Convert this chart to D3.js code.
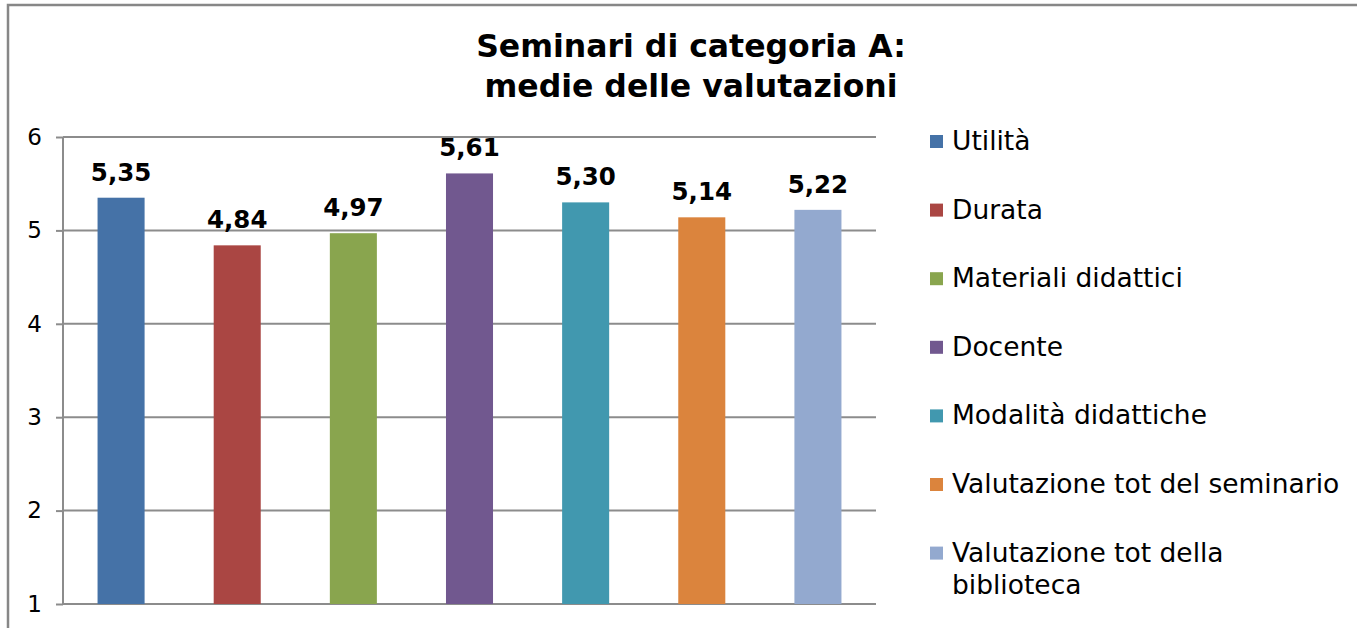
<!DOCTYPE html>
<html>
<head>
<meta charset="utf-8">
<script src="https://cdn.jsdelivr.net/npm/d3@7"></script>
<style>
  html, body { margin: 0; padding: 0; background: #fff; }
  svg { display: block; }
</style>
</head>
<body>
<svg id="chart" width="1357" height="628"></svg>
<script>
const categories = ["Utilità", "Durata", "Materiali didattici", "Docente", "Modalità didattiche", "Valutazione tot del seminario", "Valutazione tot della biblioteca"];
const values = [5.35, 4.84, 4.97, 5.61, 5.30, 5.14, 5.22];
const colors = ["#4572A7", "#AA4643", "#89A54E", "#71588F", "#4198AF", "#DB843D", "#93A9CF"];
const yTicks = [1, 2, 3, 4, 5, 6];
const titleLines = ["Seminari di categoria A:", "medie delle valutazioni"];

const svg = d3.select("#chart");
const font = "'DejaVu Sans', Verdana, sans-serif";

// frame
svg.append("path")
  .attr("d", "M8,640 L8,5 L1370,5")
  .attr("fill", "none").attr("stroke", "#878787").attr("stroke-width", 2.5);

const x0 = 63, x1 = 876, yTop = 137, yBot = 604;
const x = d3.scaleBand().domain(categories).range([x0, x1]).paddingInner(0.595).paddingOuter(0.2975);
const y = d3.scaleLinear().domain([1, 6]).range([yBot, yTop]);

// gridlines
svg.append("g").selectAll("line").data(yTicks).join("line")
  .attr("x1", x0).attr("x2", x1)
  .attr("y1", d => y(d)).attr("y2", d => y(d))
  .attr("stroke", "#8c8c8c").attr("stroke-width", 2);

// axis
const axis = d3.axisLeft(y).tickValues(yTicks).tickSize(7).tickPadding(14).tickFormat(d3.format("d"));
const ag = svg.append("g").attr("transform", `translate(${x0},0)`).call(axis);
ag.attr("font-size", null).attr("font-family", null);
ag.select(".domain").attr("stroke", "#8c8c8c").attr("stroke-width", 2).attr("d", `M0,${yTop}V${yBot}`);
ag.selectAll(".tick line").attr("stroke", "#8c8c8c").attr("stroke-width", 2);
ag.selectAll(".tick text").style("font-family", font).style("font-size", "23px").attr("fill", "#000");

// bars
svg.append("g").selectAll("rect").data(values).join("rect")
  .attr("x", (d, i) => x(categories[i]))
  .attr("width", x.bandwidth())
  .attr("y", d => y(d))
  .attr("height", d => y(1) - y(d))
  .attr("fill", (d, i) => colors[i]);

// data labels
const fmt = d => d3.format(".2f")(d).replace(".", ",");
svg.append("g").selectAll("text").data(values).join("text")
  .attr("x", (d, i) => x(categories[i]) + x.bandwidth() / 2)
  .attr("y", d => y(d) - 17)
  .attr("text-anchor", "middle")
  .style("font-family", font).style("font-weight", "bold").style("font-size", "24.5px")
  .text(fmt);

// title
svg.append("g").selectAll("text").data(titleLines).join("text")
  .attr("x", 691).attr("y", (d, i) => 57 + i * 40)
  .attr("text-anchor", "middle")
  .style("font-family", font).style("font-weight", "bold").style("font-size", "31.5px")
  .text(d => d);

// legend
const lg = svg.append("g");
categories.forEach((c, i) => {
  const base = 150 + i * 68.6;
  lg.append("rect").attr("x", 930).attr("y", base - 15).attr("width", 13).attr("height", 13).attr("fill", colors[i]);
  const t = lg.append("text").attr("x", 952).attr("y", base)
    .style("font-family", font).style("font-size", "26.5px").attr("fill", "#000");
  const words = c.split(" ");
  let line = [], tspan = t.append("tspan").attr("x", 952).attr("dy", 0);
  words.forEach(w => {
    line.push(w);
    tspan.text(line.join(" "));
    if (tspan.node().getComputedTextLength() > 395 && line.length > 1) {
      line.pop();
      tspan.text(line.join(" "));
      line = [w];
      tspan = t.append("tspan").attr("x", 952).attr("dy", 32).text(w);
    }
  });
});
</script>
</body>
</html>
